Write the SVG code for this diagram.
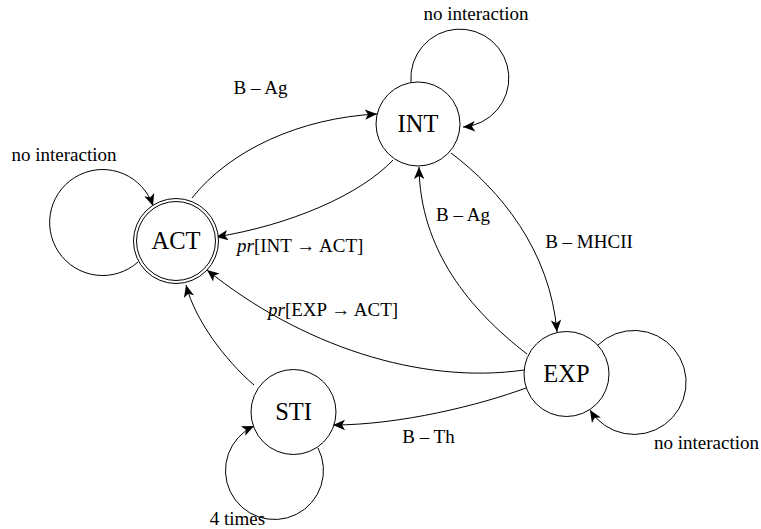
<svg xmlns="http://www.w3.org/2000/svg" width="761" height="529" viewBox="0 0 761 529">
<style>
text{font-family:"Liberation Serif","DejaVu Serif","Times New Roman",serif;fill:#000}
.node{fill:#fff;stroke:#000;stroke-width:1}
.nl{font-size:24.5px;text-anchor:middle}
.el{font-size:19px}
.e{fill:none;stroke:#000;stroke-width:1;marker-end:url(#arr)}
</style>
<defs>
<marker id="arr" viewBox="-13 -6 14 12" refX="0" refY="0" markerWidth="14" markerHeight="12" markerUnits="userSpaceOnUse" orient="auto">
<path d="M0,0 L-12,-5.2 L-9,0 L-12,5.2 Z" fill="#000"/>
</marker>
</defs>
<rect width="761" height="529" fill="#fff"/>
<g id="connectors">
<path class="e" d="M138 262 A53 53 0 1 1 153 206"/>
<path class="e" d="M411 82 A49 49 0 1 1 463 127"/>
<path class="e" d="M598 345 A52 52 0 1 1 590 410"/>
<path class="e" d="M318 448 A49 49 0 1 1 254 426"/>
<path class="e" d="M192 198 C230 150 300 118 377 114"/>
<path class="e" d="M393 160 C360 195 290 225 216 237"/>
<path class="e" d="M451 153 C500 190 550 250 557 332"/>
<path class="e" d="M527 354 C470 310 420 250 419 167"/>
<path class="e" d="M524 370 C420 385 300 345 207 270"/>
<path class="e" d="M526 388 C480 405 400 425 333 425"/>
<path class="e" d="M254 385 C225 360 195 320 186 285"/>
</g>
<g id="ACT">
<circle class="node" cx="176" cy="241" r="42.5"/>
<circle class="node" cx="176" cy="241" r="39.5"/>
<text class="nl" x="176" y="249">ACT</text>
</g>
<g id="INT">
<circle class="node" cx="418" cy="124" r="42"/>
<text class="nl" x="418" y="132">INT</text>
</g>
<g id="EXP">
<circle class="node" cx="566.5" cy="374" r="42.5"/>
<text class="nl" x="566.5" y="382">EXP</text>
</g>
<g id="STI">
<circle class="node" cx="293.5" cy="412" r="42.5"/>
<text class="nl" x="293.5" y="420">STI</text>
</g>
<g id="labels">
<text class="el" x="64" y="161" text-anchor="middle">no interaction</text>
<text class="el" x="476" y="20" text-anchor="middle">no interaction</text>
<text class="el" x="759" y="449" text-anchor="end">no interaction</text>
<text class="el" x="237.5" y="525" text-anchor="middle">4 times</text>
<text class="el" x="260.5" y="94" text-anchor="middle">B – Ag</text>
<text class="el" x="463" y="221" text-anchor="middle">B – Ag</text>
<text class="el" x="589" y="248" text-anchor="middle">B – MHCII</text>
<text class="el" x="428.5" y="443" text-anchor="middle">B – Th</text>
<text class="el" x="237" y="252"><tspan font-style="italic">pr</tspan>[INT → ACT]</text>
<text class="el" x="268" y="316"><tspan font-style="italic">pr</tspan>[EXP → ACT]</text>
</g>
</svg>
